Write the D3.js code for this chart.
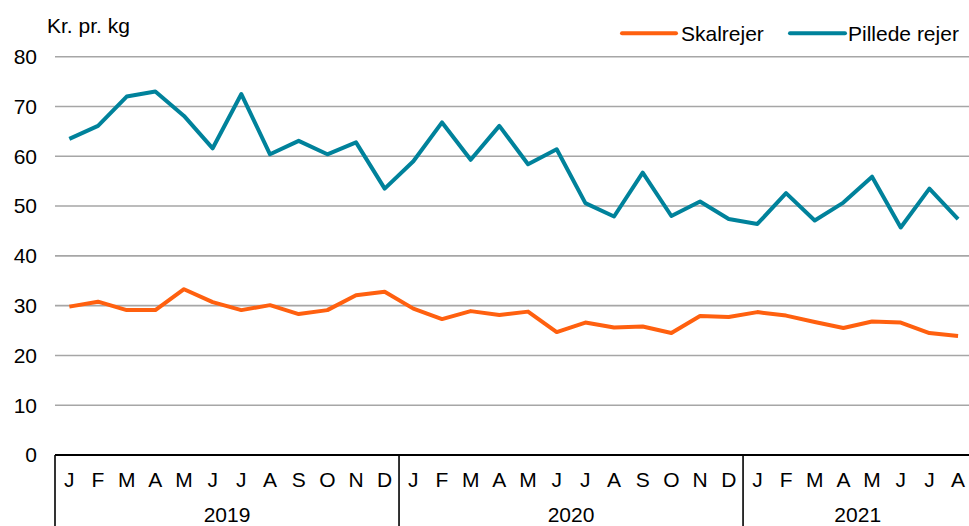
<!DOCTYPE html>
<html>
<head>
<meta charset="utf-8">
<script src="https://cdn.jsdelivr.net/npm/d3@7"></script>
<style>
  html, body { margin: 0; padding: 0; background: #fff; }
  svg { display: block; font-family: "Liberation Sans", Arial, sans-serif; }
</style>
</head>
<body>
<svg id="chart" width="969" height="526"></svg>
<script>
const months = ["J","F","M","A","M","J","J","A","S","O","N","D",
                "J","F","M","A","M","J","J","A","S","O","N","D",
                "J","F","M","A","M","J","J","A"];
const years = ["2019","2020","2021"];
const yearLengths = [12, 12, 8];
const skalrejer = [29.8, 30.8, 29.1, 29.1, 33.3, 30.7, 29.1, 30.1, 28.3, 29.1, 32.1, 32.8,
                   29.4, 27.3, 28.9, 28.1, 28.8, 24.7, 26.6, 25.6, 25.8, 24.5, 27.9, 27.7,
                   28.7, 28.0, 26.7, 25.5, 26.8, 26.6, 24.5, 23.9];
const pilledeRejer = [63.5, 66.1, 72.0, 73.0, 68.1, 61.6, 72.5, 60.4, 63.1, 60.4, 62.8, 53.5,
                      59.0, 66.8, 59.3, 66.1, 58.4, 61.4, 50.6, 47.9, 56.7, 48.0, 50.9, 47.4,
                      46.4, 52.6, 47.1, 50.7, 55.9, 45.7, 53.5, 47.4];
const yTicks = [0, 10, 20, 30, 40, 50, 60, 70, 80];
const seriesNames = ["Skalrejer", "Pillede rejer"];
const seriesColors = ["#ff600f", "#00829b"];

const svg = d3.select("#chart");
const pLeft = 55, pRight = 972.4, pTop = 56.7, pBottom = 455;
const idx = d3.range(months.length);
const x = d3.scaleBand().domain(idx).range([pLeft, pRight]).paddingInner(0).paddingOuter(0);
const y = d3.scaleLinear().domain([0, 80]).range([pBottom, pTop]);
const fs = 21;

// gridlines
svg.append("g").selectAll("line").data(yTicks.filter(d => d > 0)).join("line")
  .attr("x1", pLeft).attr("x2", 969)
  .attr("y1", d => y(d)).attr("y2", d => y(d))
  .attr("stroke", "#a6a6a6").attr("stroke-width", 1.6);

// y labels
svg.append("g").selectAll("text").data(yTicks).join("text")
  .attr("x", 37).attr("y", d => y(d)).attr("dy", "0.35em")
  .attr("text-anchor", "end").attr("font-size", fs).attr("fill", "#000")
  .text(d => d);

svg.append("text").attr("x", 47).attr("y", 32.5).attr("font-size", fs).attr("fill", "#000")
  .text("Kr. pr. kg");

// x axis line
svg.append("line").attr("x1", pLeft).attr("x2", 969).attr("y1", pBottom).attr("y2", pBottom)
  .attr("stroke", "#000").attr("stroke-width", 2);

// year separators
const starts = [0];
yearLengths.forEach((n, i) => starts.push(starts[i] + n));
const bx = i => i < months.length ? x(i) : pRight;
svg.append("g").selectAll("line").data(starts).join("line")
  .attr("x1", d => bx(d)).attr("x2", d => bx(d))
  .attr("y1", pBottom).attr("y2", 526)
  .attr("stroke", "#000").attr("stroke-width", 1.6);

// month labels
svg.append("g").selectAll("text").data(idx).join("text")
  .attr("x", i => x(i) + x.bandwidth() / 2).attr("y", 486.5)
  .attr("text-anchor", "middle").attr("font-size", fs).attr("fill", "#000")
  .text(i => months[i]);

// year labels
svg.append("g").selectAll("text").data(years).join("text")
  .attr("x", (d, i) => (bx(starts[i]) + bx(starts[i + 1])) / 2)
  .attr("y", 521.5).attr("text-anchor", "middle").attr("font-size", fs).attr("fill", "#000")
  .text(d => d);

// lines
const line = d3.line().x((d, i) => x(i) + x.bandwidth() / 2).y(d => y(d));
[skalrejer, pilledeRejer].forEach((s, k) => {
  svg.append("path").datum(s).attr("d", line)
    .attr("fill", "none").attr("stroke", seriesColors[k]).attr("stroke-width", 4)
    .attr("stroke-linejoin", "round").attr("stroke-linecap", "butt");
});

// legend
const legendItems = [
  { name: seriesNames[0], color: seriesColors[0], x1: 622, x2: 676, tx: 681 },
  { name: seriesNames[1], color: seriesColors[1], x1: 790, x2: 845, tx: 848 }
];
const lg = svg.append("g");
legendItems.forEach(it => {
  lg.append("line").attr("x1", it.x1).attr("x2", it.x2).attr("y1", 33.3).attr("y2", 33.3)
    .attr("stroke", it.color).attr("stroke-width", 4).attr("stroke-linecap", "round");
  lg.append("text").attr("x", it.tx).attr("y", 40.5).attr("font-size", fs).attr("fill", "#000")
    .text(it.name);
});
</script>
</body>
</html>
